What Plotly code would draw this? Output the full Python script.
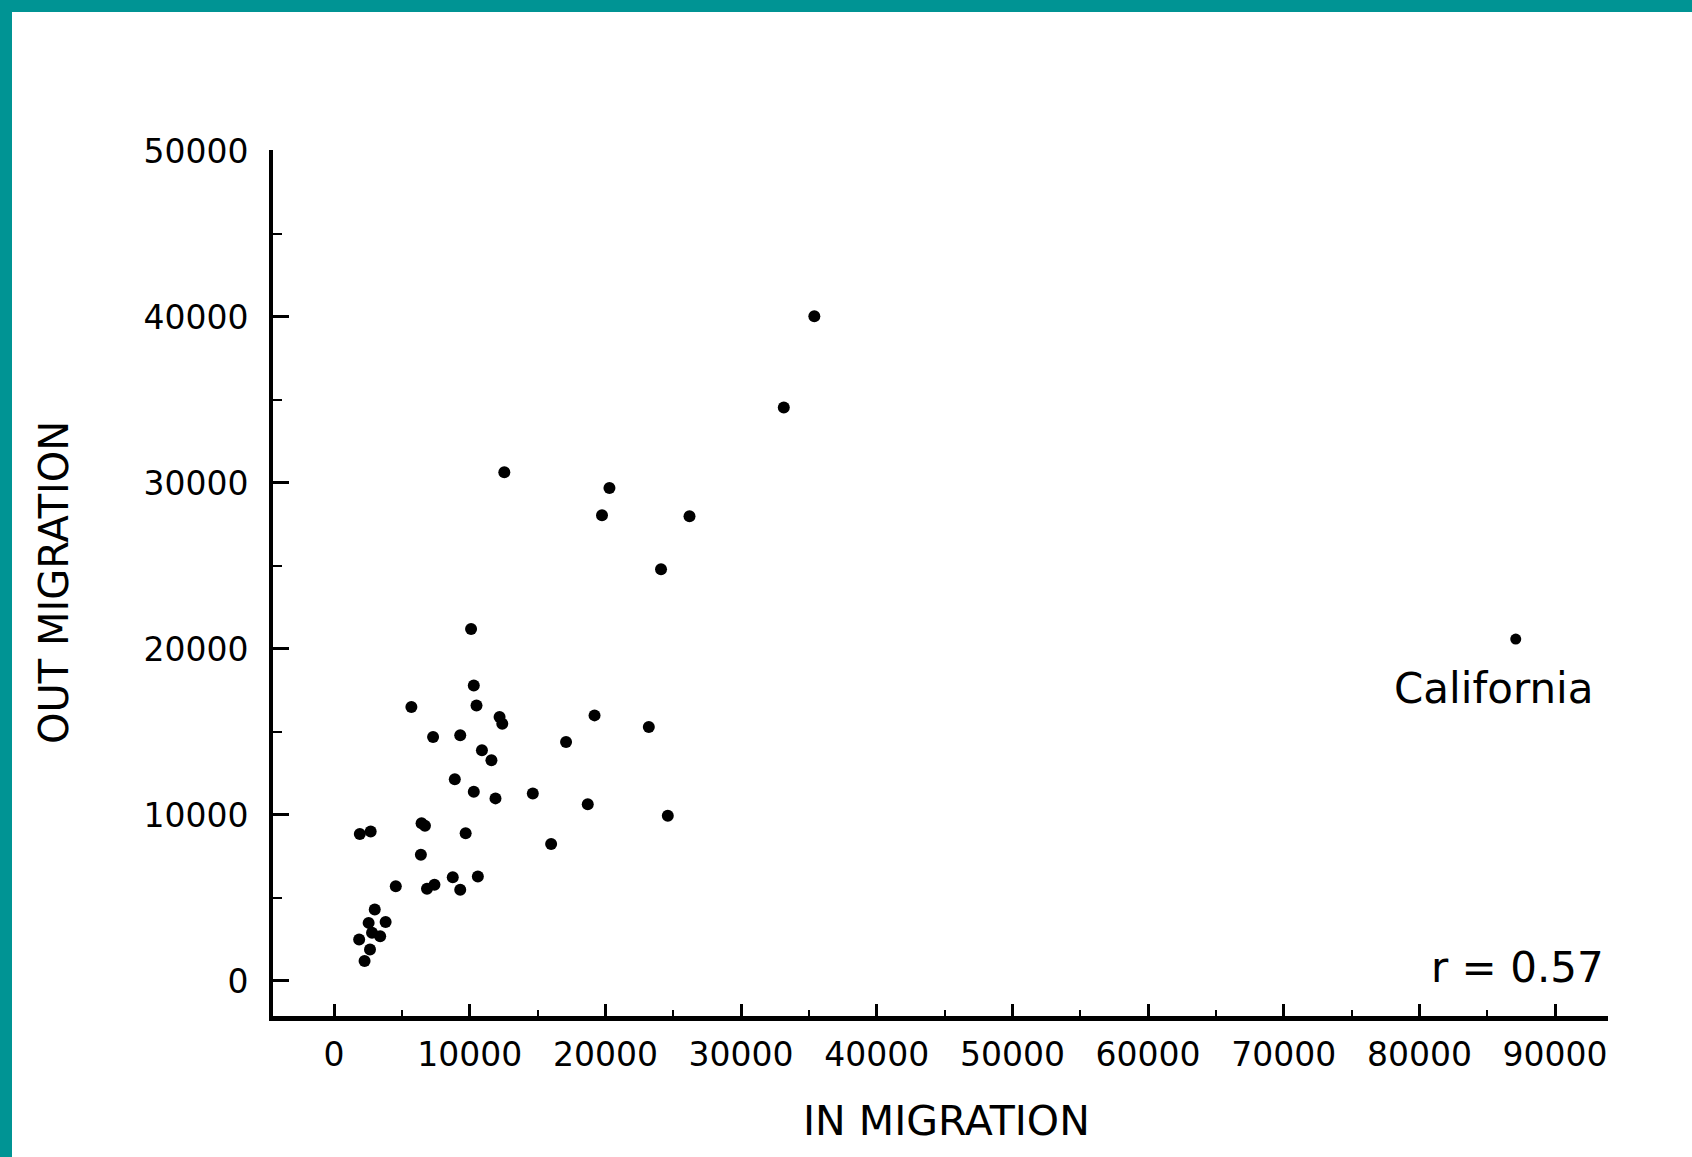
import plotly.graph_objects as go

# ---- data ----
in_migration = [10100, 10300, 5700, 10500, 12200, 12400, 19200, 23200, 7300, 9300,
                17100, 10900, 11600, 8900, 10300, 11900, 14650, 18700, 24600, 1900,
                2700, 6450, 6700, 9700, 16000, 6400, 4550, 6850, 7400, 8750,
                9300, 10600, 3000, 2550, 3800, 2800, 3400, 1850, 2650, 2250,
                35400, 33150, 12550, 20300, 19750, 26200, 24100]
out_migration = [21200, 17800, 16500, 16600, 15900, 15500, 16000, 15300, 14700, 14800,
                 14400, 13900, 13300, 12150, 11400, 11000, 11300, 10650, 9950, 8850,
                 9000, 9500, 9350, 8900, 8250, 7600, 5700, 5550, 5800, 6250,
                 5500, 6300, 4300, 3500, 3550, 2900, 2700, 2500, 1900, 1200,
                 40050, 34550, 30650, 29700, 28050, 28000, 24800]
california_in = [87100]
california_out = [20600]

x_tickvals = [0, 10000, 20000, 30000, 40000, 50000, 60000, 70000, 80000, 90000]
x_ticktext = ["0", "10000", "20000", "30000", "40000", "50000", "60000", "70000", "80000", "90000"]
y_tickvals = [0, 10000, 20000, 30000, 40000, 50000]
y_ticktext = ["0", "10000", "20000", "30000", "40000", "50000"]

FONT = "DejaVu Sans"
TEAL = "#009494"

fig = go.Figure()
fig.add_trace(go.Scatter(x=in_migration, y=out_migration, mode="markers",
                         marker=dict(color="black", size=12), showlegend=False))
fig.add_trace(go.Scatter(x=california_in, y=california_out, mode="markers",
                         marker=dict(color="black", size=11), showlegend=False))

W, H = 1692, 1157
L, R, T, B = 273, 84, 150, 141
pw, ph = W - L - R, H - T - B


def px(xp):
    return (xp - L) / pw


def py(yp):
    return (H - B - yp) / ph


fig.update_layout(
    width=W, height=H,
    margin=dict(l=L, r=R, t=T, b=B),
    paper_bgcolor="white", plot_bgcolor="white",
    font=dict(family=FONT, color="black"),
    xaxis=dict(range=[-4500, 93900], showgrid=False, zeroline=False,
               showline=True, linecolor="black", linewidth=5,
               tickmode="array", tickvals=x_tickvals, ticktext=x_ticktext,
               ticks="inside", ticklen=12, tickwidth=3, tickcolor="black",
               tickfont=dict(family=FONT, size=33, color="black"),
               ticklabelstandoff=5,
               minor=dict(ticks="inside", dtick=5000, tick0=0, ticklen=6,
                          tickwidth=2, tickcolor="black", showgrid=False)),
    yaxis=dict(range=[-2110, 50060], showgrid=False, zeroline=False,
               showline=True, linecolor="black", linewidth=4,
               tickmode="array", tickvals=y_tickvals, ticktext=y_ticktext,
               ticks="inside", ticklen=16, tickwidth=3, tickcolor="black",
               tickfont=dict(family=FONT, size=33, color="black"),
               ticklabelstandoff=14,
               minor=dict(ticks="inside", dtick=5000, tick0=0, ticklen=9,
                          tickwidth=2, tickcolor="black", showgrid=False)),
    annotations=[
        dict(text="OUT MIGRATION", x=px(54), y=py(583), xref="paper", yref="paper",
             textangle=-90, showarrow=False, xanchor="center", yanchor="middle",
             font=dict(family=FONT, size=40, color="black")),
        dict(text="IN MIGRATION", x=px(947), y=py(1121), xref="paper", yref="paper",
             showarrow=False, xanchor="center", yanchor="middle",
             font=dict(family=FONT, size=41, color="black")),
        dict(text="California", x=px(1493), y=py(688), xref="paper", yref="paper",
             showarrow=False, xanchor="center", yanchor="middle",
             font=dict(family=FONT, size=42, color="black")),
        dict(text="r = 0.57", x=px(1517), y=py(967), xref="paper", yref="paper",
             showarrow=False, xanchor="center", yanchor="middle",
             font=dict(family=FONT, size=42, color="black")),
    ],
    shapes=[
        dict(type="rect", xref="paper", yref="paper", x0=px(0), x1=px(W), y0=py(12), y1=py(0),
             fillcolor=TEAL, line=dict(width=0), layer="above"),
        dict(type="rect", xref="paper", yref="paper", x0=px(0), x1=px(12), y0=py(H), y1=py(0),
             fillcolor=TEAL, line=dict(width=0), layer="above"),
    ],
)

fig.write_html("out.html")
